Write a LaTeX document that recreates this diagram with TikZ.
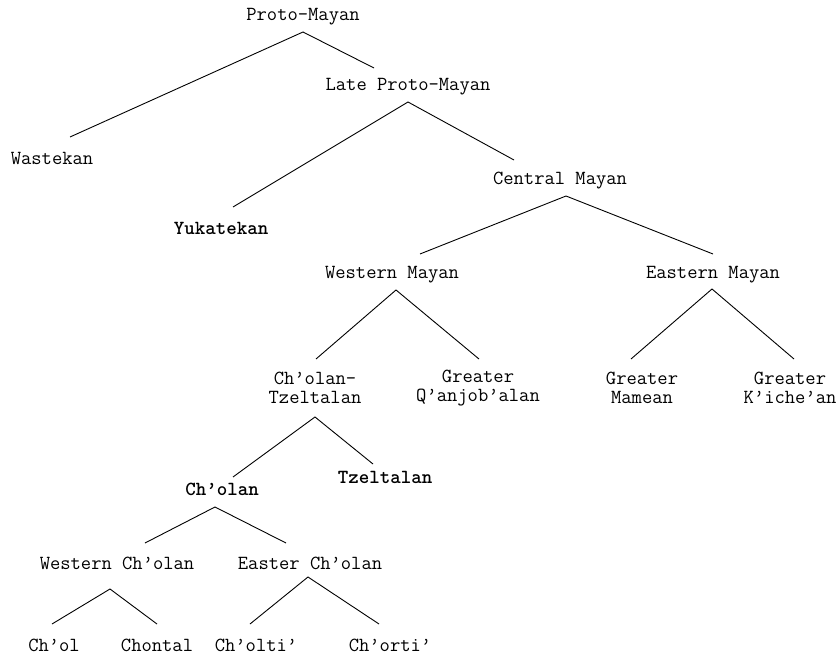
\documentclass[tikz,border=0pt]{standalone}
\usepackage{fontspec}
\usetikzlibrary{calc}
\tikzset{
  lang/.style={inner sep=0pt, align=center, font=\ttfamily\fontsize{20}{19}\selectfont},
  sub/.style={lang, font=\ttfamily\fontsize{20}{19}\selectfont\bfseries},
  branch/.style={line width=0.9pt}
}
\begin{document}
\begin{tikzpicture}[x=1pt, y=-1pt]
  \useasboundingbox (0,0) rectangle (838,655);
  \node[lang] (pm) at (303,17) {Proto-Mayan};
  \node[lang] (wk) at (52,158) {Wastekan};
  \node[lang] (lpm) at (408,87) {Late Proto-Mayan};
  \node[sub] (yk) at (221,228) {Yukatekan};
  \node[lang] (cm) at (560,181) {Central Mayan};
  \node[lang] (wm) at (392,275) {Western Mayan};
  \node[lang] (em) at (713,275) {Eastern Mayan};
  \node[lang] (ct) at (315,388) {Ch’olan-\\Tzeltalan};
  \node[lang] (gq) at (478,388) {Greater\\Q’anjob’alan};
  \node[lang] (gm) at (642,388) {Greater\\Mamean};
  \node[lang] (gk) at (790,388) {Greater\\K’iche’an};
  \node[sub] (co) at (222,489) {Ch’olan};
  \node[sub] (tz) at (385,477) {Tzeltalan};
  \node[lang] (wc) at (117,563) {Western Ch’olan};
  \node[lang] (ec) at (310,563) {Easter Ch’olan};
  \node[lang] (chol) at (54,645) {Ch’ol};
  \node[lang] (chon) at (157,645) {Chontal};
  \node[lang] (colt) at (256,645) {Ch’olti’};
  \node[lang] (cort) at (390,645) {Ch’orti’};

  \draw[branch] ($(wk)+(18,-21)$) -- ($(pm)+(0,15)$) -- ($(lpm)+(-34,-19)$);
  \draw[branch] ($(yk)+(12,-21)$) -- ($(lpm)+(0,15)$) -- ($(cm)+(-46,-21)$);
  \draw[branch] ($(wm)+(28,-21)$) -- ($(cm)+(6,15)$) -- ($(em)+(0,-21)$);
  \draw[branch] ($(ct)+(1,-29)$) -- ($(wm)+(4,15)$) -- ($(gq)+(1,-29)$);
  \draw[branch] ($(gm)+(-11,-29)$) -- ($(em)+(-1,14)$) -- ($(gk)+(4,-29)$);
  \draw[branch] ($(co)+(11,-12)$) -- ($(ct)+(0,29)$) -- ($(tz)+(-12,-13)$);
  \draw[branch] ($(wc)+(28,-20)$) -- ($(co)+(-7,18)$) -- ($(ec)+(-24,-20)$);
  \draw[branch] ($(chol)+(-2,-21)$) -- ($(wc)+(-7,26)$) -- ($(chon)+(0,-21)$);
  \draw[branch] ($(colt)+(-6,-21)$) -- ($(ec)+(-2,14)$) -- ($(cort)+(-11,-21)$);
\end{tikzpicture}
\end{document}
